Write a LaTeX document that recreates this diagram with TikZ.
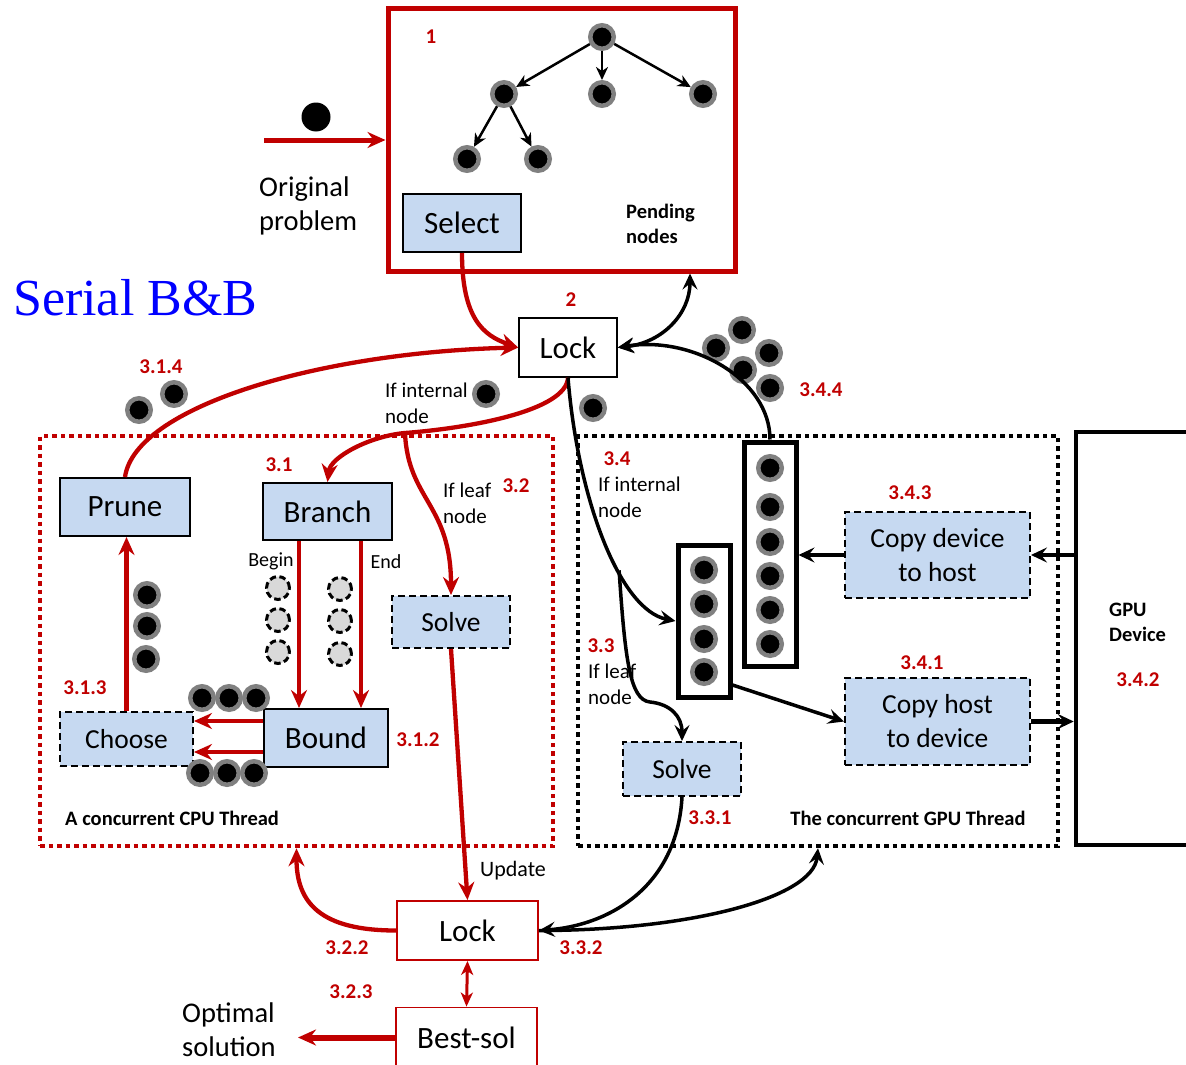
\documentclass[tikz,border=0pt]{standalone}
\usepackage{fontspec}
\setmainfont{Carlito}
\newfontfamily\titlefont{Liberation Serif}
\usetikzlibrary{arrows.meta,calc}
\definecolor{dred}{RGB}{192,0,0}
\definecolor{boxblue}{RGB}{198,217,241}
\definecolor{ring}{RGB}{128,128,128}
\definecolor{dotfill}{RGB}{217,217,217}
\definecolor{titleblue}{RGB}{0,0,255}

\begin{document}
\begin{tikzpicture}[x=1pt,y=-1pt,
  big/.style={font=\fontsize{31}{34}\selectfont},
  mid/.style={font=\fontsize{27.5}{34}\selectfont},
  sbox/.style={draw=black,line width=2pt,fill=boxblue,inner sep=0pt,big},
  dbox/.style={draw=black,line width=2pt,dash pattern=on 7pt off 4pt,fill=boxblue,inner sep=0pt,mid,align=center},
  lockbox/.style={draw=black,line width=1.6pt,fill=white,inner sep=0pt,big},
  redbox/.style={draw=dred,line width=1.8pt,fill=white,inner sep=0pt,big},
  num/.style={text=dred,font=\fontsize{21}{25}\selectfont\bfseries,inner sep=0pt},
  lab/.style={font=\fontsize{21}{26}\selectfont,align=left,inner sep=0pt,anchor=west},
  biglab/.style={font=\fontsize{28.5}{34}\selectfont,align=left,inner sep=0pt,anchor=west},
  blab/.style={font=\fontsize{20.5}{25}\selectfont\bfseries,align=left,inner sep=0pt},
  gdot/.style={circle,fill=black,draw=ring,line width=4.5pt,minimum size=23.5pt,inner sep=0pt},
  hdot/.style={circle,fill=dotfill,draw=black,line width=3pt,dash pattern=on 6.5pt off 3.5pt,minimum size=23pt,inner sep=0pt},
  buf/.style={draw=black,line width=5pt,fill=white,inner sep=0pt},
  thread/.style={line width=4.5pt,dash pattern=on 4.5pt off 4pt,inner sep=0pt},
  redarr/.style={draw=dred,line width=4.3pt,-{Stealth[length=18pt,width=16pt,inset=6pt]}},
  redline/.style={draw=dred,line width=4.3pt},
  blkarr/.style={draw=black,line width=3.5pt,-{Stealth[length=16pt,width=15pt,inset=6pt]}},
  blkline/.style={draw=black,line width=3.5pt},
  tarr/.style={draw=black,line width=2.5pt,-{Stealth[length=13pt,width=12pt,inset=4pt]}}
]
\useasboundingbox (0,0) rectangle (1186,1065);

% ---------- thread frames and GPU device ----------
\node[thread,draw=dred,minimum width=513pt,minimum height=410pt] (cpu) at (296.5,641) {};
\node[thread,draw=black,minimum width=480pt,minimum height=410pt] (gthr) at (818,641) {};
\node[draw=black,line width=4.5pt,minimum width=114pt,minimum height=413pt,inner sep=0pt] (gpu) at (1133,638.5) {};
\node[blab,anchor=west] (gpulab) at (1109,622) {GPU\\Device};
\node[num] (n342) at (1138,680) {3.4.2};

% ---------- pending nodes pool ----------
\node[draw=dred,line width=5pt,minimum width=347pt,minimum height=262pt,inner sep=0pt] (pend) at (561.5,140) {};
\node[num] (n1) at (431,37) {1};
\node[gdot] (t0) at (602,37) {};
\node[gdot] (t1) at (504,94) {};
\node[gdot] (t2) at (602,94) {};
\node[gdot] (t3) at (703,94) {};
\node[gdot] (t4) at (467,159) {};
\node[gdot] (t5) at (538,159) {};
\draw[tarr] (t0) -- (t1);
\draw[tarr] (t0) -- (t2);
\draw[tarr] (t0) -- (t3);
\draw[tarr] (t1) -- (t4);
\draw[tarr] (t1) -- (t5);
\node[sbox,minimum width=118pt,minimum height=58pt] (select) at (462,223) {Select};
\node[blab,anchor=west] (pendlab) at (626,224) {Pending\\nodes};

% ---------- original problem ----------
\node[circle,fill=black,minimum size=29pt,inner sep=0pt] (odot) at (316,117) {};
\coordinate (ostart) at (264,140);
\draw[redarr,line width=5pt] (ostart) -- (ostart -| pend.west);
\node[biglab] (orig) at (259,206) {Original\\problem};
\node[anchor=west,inner sep=0pt,text=titleblue,font=\titlefont\fontsize{52}{58}\selectfont] (title) at (13,298) {Serial B\&B};

% ---------- first lock ----------
\node[lockbox,minimum width=98pt,minimum height=59pt] (lock1) at (568,347.5) {Lock};
\node[num] (n2) at (571,300) {2};

% ---------- CPU thread ----------
\node[sbox,minimum width=130pt,minimum height=58pt] (prune) at (125,507) {Prune};
\node[sbox,minimum width=129pt,minimum height=57pt] (branch) at (327.5,511.5) {Branch};
\node[sbox,minimum width=124pt,minimum height=58pt] (bound) at (326,738) {Bound};
\node[dbox,minimum width=133pt,minimum height=54pt] (choose) at (126.5,739) {Choose};
\node[dbox,minimum width=118pt,minimum height=52pt] (solvec) at (451,622) {Solve};

\node[num] (n314) at (161,367) {3.1.4};
\node[num] (n31) at (279,465) {3.1};
\node[num] (n32) at (516,486) {3.2};
\node[num] (n313) at (85,688) {3.1.3};
\node[num] (n312) at (418,740) {3.1.2};
\node[lab] (ifint) at (385,403) {If internal\\node};
\node[lab] (ifleaf) at (443,503) {If leaf\\node};
\node[font=\fontsize{20}{24}\selectfont,inner sep=0pt] (begin) at (271,561) {Begin};
\node[font=\fontsize{20}{24}\selectfont,inner sep=0pt] (end) at (386,562) {End};
\node[blab,anchor=west] (cpulab) at (65,818) {A concurrent CPU Thread};

\node[gdot] (d1) at (139,410) {};
\node[gdot] (d2) at (174,394) {};
\node[gdot] (d3) at (486,394) {};
\node[gdot] (c1) at (147,595) {};
\node[gdot] (c2) at (147,626) {};
\node[gdot] (c3) at (146,659) {};
\node[gdot] (a1) at (202,698) {};
\node[gdot] (a2) at (229,698) {};
\node[gdot] (a3) at (256,698) {};
\node[gdot] (b1) at (200,773) {};
\node[gdot] (b2) at (227,773) {};
\node[gdot] (b3) at (254,773) {};
\node[hdot] (h1) at (278,588) {};
\node[hdot] (h2) at (278,620) {};
\node[hdot] (h3) at (278,652) {};
\node[hdot] (h4) at (340,589) {};
\node[hdot] (h5) at (340,621) {};
\node[hdot] (h6) at (340,654) {};

% ---------- GPU thread ----------
\node[buf,minimum width=52pt,minimum height=152pt] (sbuf) at (704,621) {};
\node[buf,minimum width=52pt,minimum height=224pt] (tbuf) at (770,554) {};
\foreach \yy in {570,604,639,672} \node[gdot] at (704,\yy) {};
\foreach \yy in {468,507,542,576,610,644} \node[gdot] at (770,\yy) {};
\node[dbox,minimum width=185pt,minimum height=86pt] (d2h) at (937.5,555) {Copy device\\to host};
\node[dbox,minimum width=185pt,minimum height=87pt] (h2d) at (937.5,721.5) {Copy host\\to device};
\node[dbox,minimum width=118pt,minimum height=54pt] (solveg) at (682,769) {Solve};

\node[num] (n34) at (617,459) {3.4};
\node[lab] (gint) at (598,497) {If internal\\node};
\node[num] (n33) at (601,646) {3.3};
\node[lab] (gleaf) at (588,684) {If leaf\\node};
\node[num] (n343) at (910,493) {3.4.3};
\node[num] (n341) at (922,663) {3.4.1};
\node[num] (n344) at (821,390) {3.4.4};
\node[num] (n331) at (710,818) {3.3.1};
\node[blab] (gputhr) at (908,818) {The concurrent GPU Thread};

\node[gdot] (g0) at (593,408) {};
\node[gdot] (k1) at (742,330) {};
\node[gdot] (k2) at (716,348) {};
\node[gdot] (k3) at (769,353) {};
\node[gdot] (k4) at (743,370) {};
\node[gdot] (k5) at (770,388) {};

% ---------- second lock and best solution ----------
\node[redbox,minimum width=141pt,minimum height=59pt] (lock2) at (467.5,930.5) {Lock};
\node[redbox,minimum width=141pt,minimum height=60pt] (best) at (466.5,1037.5) {Best-sol};
\node[lab,font=\fontsize{22}{26}\selectfont] (upd) at (480,871) {Update};
\node[num] (n322) at (347,948) {3.2.2};
\node[num] (n332) at (581,948) {3.3.2};
\node[num] (n323) at (351,992) {3.2.3};
\node[biglab] (opt) at (182,1030) {Optimal\\solution};
\coordinate (optend) at (298,1037.5);

% ---------- connectors: pool and first lock ----------
\draw[redarr] (select.south) .. controls +(0,65) and +(-35,-12) .. (lock1.west);
\draw[blkline,{Stealth[length=16pt,width=15pt,inset=6pt]}-{Stealth[length=16pt,width=15pt,inset=6pt]}]
  (lock1.east) .. controls +(45,-5) and +(0,40) .. ([xshift=128.5pt]pend.south);
\draw[blkarr] (tbuf.north) .. controls +(0,-60) and +(75,-12) .. (lock1.east);
\draw[redarr] (prune.north) .. controls +(10,-70) and +(-200,5) .. (lock1.west);

% ---------- connectors: CPU thread ----------
\draw[redline] (lock1.south) .. controls +(-2,33) and +(65,-5) .. coordinate[pos=1] (split) (405,433);
\draw[redarr] (split) .. controls +(-35,3) and +(3,-25) .. (branch.north);
\draw[redarr] (split) .. controls +(3,67) and +(0,-91) .. (solvec.north);
\draw[redarr] ([xshift=-28.5pt]branch.south) -- ([xshift=-28.5pt]branch.south |- bound.north);
\draw[redarr] ([xshift=33.5pt]branch.south) -- ([xshift=33.5pt]branch.south |- bound.north);
\draw[redarr] ([yshift=17pt]bound.west) -- ([yshift=17pt]bound.west -| choose.east);
\draw[redarr] ([yshift=-14pt]bound.west) -- ([yshift=-14pt]bound.west -| choose.east);
\draw[redarr] (choose.north) -- (choose.north |- prune.south);
\draw[redarr] (solvec.south) -- (lock2.north);
\draw[redarr] (lock2.west) .. controls +(-75,0) and +(0,55) .. (cpu.south);
\draw[draw=dred,line width=3pt,{Stealth[length=14pt,width=12pt,inset=4pt]}-{Stealth[length=14pt,width=12pt,inset=4pt]}] (lock2.south) -- (best.north);
\draw[redarr,line width=6pt] (best.west) -- (optend);

% ---------- connectors: GPU thread ----------
\draw[blkarr] (lock1.south) .. controls (578,500) and (620,610) .. coordinate[pos=0.62] (gsplit) (sbuf.west);
\draw[blkarr] (gsplit) .. controls +(6,90) and +(-20,-2) .. (650,702) .. controls +(20,2) and +(0,-25) .. (solveg.north);
\draw[blkarr] ([yshift=-64pt]sbuf.east) -- (h2d.west);
\draw[blkarr] (d2h.west) -- (d2h.west -| tbuf.east);
\draw[blkarr] (d2h.east -| gpu.west) -- (d2h.east);
\draw[blkarr,line width=5pt] (h2d.east) -- (h2d.east -| gpu.west);
\draw[blkarr] (solveg.south) .. controls +(-5,90) and +(70,-5) .. (lock2.east);
\draw[blkarr] (lock2.east) .. controls +(150,0) and +(-5,50) .. (gthr.south);
\end{tikzpicture}
\end{document}
